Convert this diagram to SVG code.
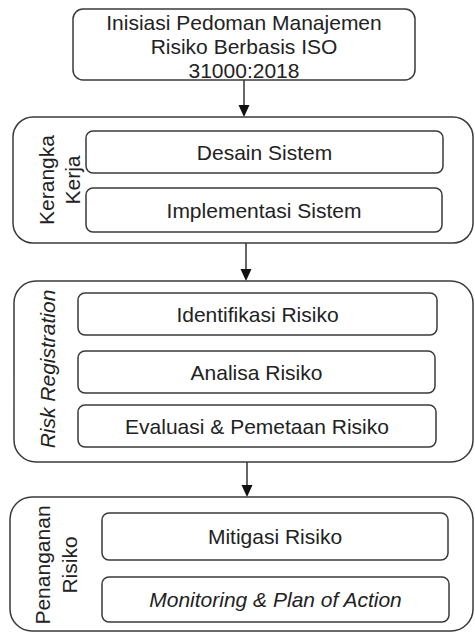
<svg xmlns="http://www.w3.org/2000/svg" width="475" height="633" viewBox="0 0 475 633">
<style>
.bx{fill:#fff;stroke:#3a3a3a;stroke-width:1.5}
.t{font-family:"Liberation Sans",Arial,sans-serif;font-size:21px;fill:#222;text-anchor:middle}
.i{font-style:italic}
.c{stroke:#333;stroke-width:1.5;fill:none}
</style>
<defs>
<marker id="ah" markerUnits="userSpaceOnUse" markerWidth="12" markerHeight="12" viewBox="0 0 12 12" refX="6" refY="12" orient="auto-start-reverse">
<path d="M0,0 L12,0 L6,12 Z" fill="#111" transform="rotate(0)"/>
</marker>
</defs>
<rect width="475" height="633" fill="#fff"/>
<g id="connectors">
<line class="c" x1="244" y1="80" x2="244" y2="105"/>
<path d="M238.5,105 L249.5,105 L244,117 Z" fill="#111"/>
<line class="c" x1="246" y1="243" x2="246" y2="269"/>
<path d="M240.5,269 L251.5,269 L246,281 Z" fill="#111"/>
<line class="c" x1="247" y1="462" x2="247" y2="485"/>
<path d="M241.5,485 L252.5,485 L247,497 Z" fill="#111"/>
</g>
<g id="inisiasi">
<rect class="bx" x="73" y="9" width="342" height="71" rx="10"/>
<text class="t" x="244" y="30">Inisiasi Pedoman Manajemen</text>
<text class="t" x="244" y="54">Risiko Berbasis ISO</text>
<text class="t" x="244" y="78">31000:2018</text>
</g>
<g id="kerangka">
<rect class="bx" x="13" y="117" width="460" height="126" rx="20"/>
<text class="t" transform="translate(47,180) rotate(-90)" dy="0.35em">Kerangka</text>
<text class="t" transform="translate(73,180) rotate(-90)" dy="0.35em">Kerja</text>
</g>
<g id="desain">
<rect class="bx" x="86" y="131" width="357" height="42" rx="7"/>
<text class="t" x="264.5" y="159.5">Desain Sistem</text>
</g>
<g id="implementasi">
<rect class="bx" x="86" y="188" width="356" height="44" rx="7"/>
<text class="t" x="264" y="217.5">Implementasi Sistem</text>
</g>
<g id="risk-registration">
<rect class="bx" x="14" y="281" width="459" height="181" rx="22"/>
<text class="t i" transform="translate(48,369) rotate(-90)" dy="0.35em">Risk Registration</text>
</g>
<g id="identifikasi">
<rect class="bx" x="78" y="293" width="359" height="42" rx="7"/>
<text class="t" x="257.5" y="321.5">Identifikasi Risiko</text>
</g>
<g id="analisa">
<rect class="bx" x="78" y="351" width="357" height="42" rx="7"/>
<text class="t" x="256.5" y="379.5">Analisa Risiko</text>
</g>
<g id="evaluasi">
<rect class="bx" x="78" y="405" width="358" height="42" rx="7"/>
<text class="t" x="257" y="433.5">Evaluasi &amp; Pemetaan Risiko</text>
</g>
<g id="penanganan">
<rect class="bx" x="10" y="497" width="463" height="134" rx="22"/>
<text class="t" transform="translate(43,565) rotate(-90)" dy="0.35em">Penanganan</text>
<text class="t" transform="translate(70,565) rotate(-90)" dy="0.35em">Risiko</text>
</g>
<g id="mitigasi">
<rect class="bx" x="102" y="513" width="346" height="47" rx="7"/>
<text class="t" x="275" y="544">Mitigasi Risiko</text>
</g>
<g id="monitoring">
<rect class="bx" x="102" y="577" width="347" height="45" rx="7"/>
<text class="t i" x="275.5" y="607">Monitoring &amp; Plan of Action</text>
</g>
</svg>
